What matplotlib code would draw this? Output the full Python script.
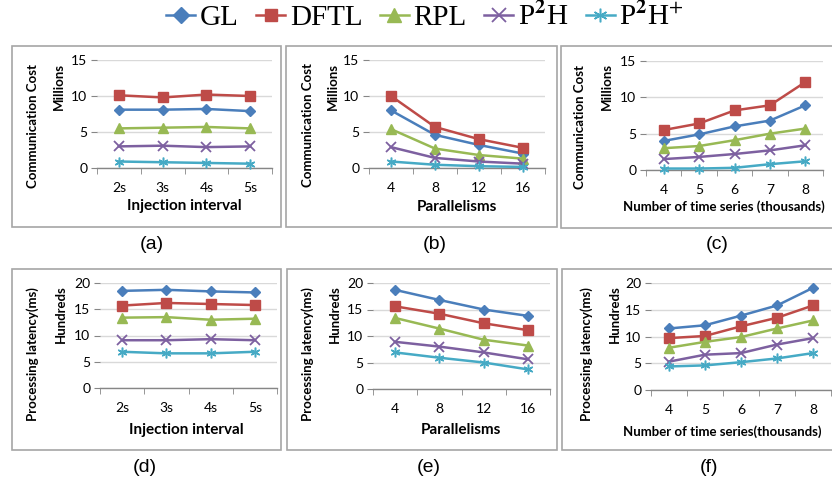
import matplotlib
matplotlib.use('Agg')
import matplotlib.pyplot as plt
import numpy as np
from matplotlib.patches import Rectangle

# ---------------- data ----------------
series_names = ['GL', 'DFTL', 'RPL', r'P$^{\mathbf{2}}$H', r'P$^{\mathbf{2}}$H$^{+}$']

interval_labels = ['2s', '3s', '4s', '5s']
parallel_labels = ['4', '8', '12', '16']
nseries_labels = ['4', '5', '6', '7', '8']

# (a) communication cost vs injection interval (millions)
cost_interval_gl = [8.1, 8.1, 8.2, 7.9]
cost_interval_dftl = [10.1, 9.8, 10.2, 10.0]
cost_interval_rpl = [5.5, 5.6, 5.7, 5.5]
cost_interval_p2h = [3.0, 3.1, 2.9, 3.0]
cost_interval_p2hp = [0.9, 0.8, 0.7, 0.6]

# (b) communication cost vs parallelism (millions)
cost_parallel_gl = [8.0, 4.6, 3.2, 2.0]
cost_parallel_dftl = [10.0, 5.7, 4.0, 2.8]
cost_parallel_rpl = [5.4, 2.7, 1.8, 1.3]
cost_parallel_p2h = [2.9, 1.4, 0.9, 0.6]
cost_parallel_p2hp = [0.9, 0.45, 0.25, 0.15]

# (c) communication cost vs number of time series (millions)
cost_nseries_gl = [4.0, 4.9, 6.0, 6.8, 8.9]
cost_nseries_dftl = [5.5, 6.4, 8.2, 8.9, 12.1]
cost_nseries_rpl = [3.0, 3.3, 4.1, 5.0, 5.7]
cost_nseries_p2h = [1.5, 1.8, 2.2, 2.7, 3.4]
cost_nseries_p2hp = [0.2, 0.2, 0.3, 0.8, 1.2]

# (d) processing latency vs injection interval (hundreds ms)
lat_interval_gl = [18.5, 18.7, 18.4, 18.2]
lat_interval_dftl = [15.7, 16.2, 16.0, 15.8]
lat_interval_rpl = [13.4, 13.5, 13.0, 13.2]
lat_interval_p2h = [9.1, 9.1, 9.3, 9.1]
lat_interval_p2hp = [6.9, 6.6, 6.6, 6.9]

# (e) processing latency vs parallelism (hundreds ms)
lat_parallel_gl = [18.7, 16.8, 15.0, 13.8]
lat_parallel_dftl = [15.6, 14.2, 12.4, 11.1]
lat_parallel_rpl = [13.4, 11.4, 9.3, 8.2]
lat_parallel_p2h = [8.9, 8.0, 6.9, 5.6]
lat_parallel_p2hp = [6.9, 5.9, 5.0, 3.7]

# (f) processing latency vs number of time series (hundreds ms)
lat_nseries_gl = [11.5, 12.1, 13.9, 15.8, 19.1]
lat_nseries_dftl = [9.7, 10.1, 11.9, 13.5, 15.8]
lat_nseries_rpl = [7.9, 9.0, 9.9, 11.5, 13.0]
lat_nseries_p2h = [5.3, 6.6, 6.9, 8.5, 9.7]
lat_nseries_p2hp = [4.4, 4.6, 5.2, 5.9, 6.9]

# ---------------- style ----------------
colors = ['#4A7EBB', '#BE4B48', '#98B954', '#7D60A0', '#46AAC5']
markers = ['D', 's', '^', 'x', (6, 2, 0)]
msizes = [5.5, 6.5, 7, 7, 7]
mews = [1, 1, 1, 1.3, 1.1]

plt.rcParams['font.family'] = ['Lato', 'DejaVu Sans']
plt.rcParams['mathtext.fontset'] = 'stix'

W, H = 832, 480
fig = plt.figure(figsize=(W / 100, H / 100), dpi=100)


def rect(x0, y0, x1, y1):
    return [x0 / W, 1 - y1 / H, (x1 - x0) / W, (y1 - y0) / H]


def fx(x):
    return x / W


def fy(y):
    return 1 - y / H


panels = [
    dict(box=(12, 46, 281, 227), ax=(97, 60, 272, 168), labels=interval_labels,
         data=[cost_interval_gl, cost_interval_dftl, cost_interval_rpl, cost_interval_p2h, cost_interval_p2hp],
         ymax=15, ylab='Communication Cost', ylab_pos=(33, 126), unit='Millions', unit_pos=(59, 87),
         xlab='Injection interval', xlab_pos=(184, 206), xlab_size=11, tag='(a)', tag_pos=(152, 245)),
    dict(box=(286, 46, 557, 227), ax=(369, 60, 545, 168), labels=parallel_labels,
         data=[cost_parallel_gl, cost_parallel_dftl, cost_parallel_rpl, cost_parallel_p2h, cost_parallel_p2hp],
         ymax=15, ylab='Communication Cost', ylab_pos=(308, 125), unit='Millions', unit_pos=(333, 87),
         xlab='Parallelisms', xlab_pos=(457, 207), xlab_size=11, tag='(b)', tag_pos=(435, 245)),
    dict(box=(561, 46, 833, 228), ax=(646, 61, 823, 170), labels=nseries_labels,
         data=[cost_nseries_gl, cost_nseries_dftl, cost_nseries_rpl, cost_nseries_p2h, cost_nseries_p2hp],
         ymax=15, ylab='Communication Cost', ylab_pos=(580, 127), unit='Millions', unit_pos=(607, 87),
         xlab='Number of time series (thousands)', xlab_pos=(724, 207), xlab_size=9.5,
         tag='(c)', tag_pos=(717, 245)),
    dict(box=(12, 269, 281, 450), ax=(100, 283, 277, 388), labels=interval_labels,
         data=[lat_interval_gl, lat_interval_dftl, lat_interval_rpl, lat_interval_p2h, lat_interval_p2hp],
         ymax=20, ylab='Processing latency(ms)', ylab_pos=(33, 354), unit='Hundreds', unit_pos=(61, 314),
         xlab='Injection interval', xlab_pos=(186, 430), xlab_size=11, tag='(d)', tag_pos=(145, 467)),
    dict(box=(287, 269, 557, 450), ax=(373, 283, 550, 389), labels=parallel_labels,
         data=[lat_parallel_gl, lat_parallel_dftl, lat_parallel_rpl, lat_parallel_p2h, lat_parallel_p2hp],
         ymax=20, ylab='Processing latency(ms)', ylab_pos=(308, 354), unit='Hundreds', unit_pos=(335, 314),
         xlab='Parallelisms', xlab_pos=(461, 430), xlab_size=11, tag='(e)', tag_pos=(429, 467)),
    dict(box=(562, 269, 833, 450), ax=(651, 283, 831, 390), labels=nseries_labels,
         data=[lat_nseries_gl, lat_nseries_dftl, lat_nseries_rpl, lat_nseries_p2h, lat_nseries_p2hp],
         ymax=20, ylab='Processing latency(ms)', ylab_pos=(587, 354), unit='Hundreds', unit_pos=(615, 314),
         xlab='Number of time series(thousands)', xlab_pos=(722, 432), xlab_size=9.5,
         tag='(f)', tag_pos=(709, 467)),
]

border_col = '#A6A6A6'
axis_col = '#868686'
grid_col = '#D9D9D9'

for p in panels:
    x0, y0, x1, y1 = p['box']
    fig.patches.append(Rectangle((fx(x0), fy(y1)), (x1 - x0) / W, (y1 - y0) / H,
                                 transform=fig.transFigure, fill=False,
                                 edgecolor=border_col, linewidth=1.2, zorder=0))
    ax = fig.add_axes(rect(*p['ax']))
    n = len(p['labels'])
    xs = np.arange(n)
    handles = []
    for i, vals in enumerate(p['data']):
        h, = ax.plot(xs, vals, color=colors[i], marker=markers[i], ms=msizes[i],
                     mew=mews[i], mec=colors[i], mfc=colors[i], lw=1.8,
                     clip_on=False, zorder=3, label=series_names[i])
        handles.append(h)
    ax.set_xlim(-0.5, n - 0.5)
    ax.set_ylim(0, p['ymax'])
    ax.set_yticks(np.arange(0, p['ymax'] + 1, 5))
    ax.set_xticks(xs)
    ax.set_xticklabels(p['labels'])
    ax.set_xticks(np.arange(-0.5, n, 1), minor=True)
    for s in ['top', 'right', 'left']:
        ax.spines[s].set_visible(False)
    ax.spines['bottom'].set_color(axis_col)
    ax.spines['bottom'].set_linewidth(1.0)
    ax.grid(axis='y', color=grid_col, lw=1.0, zorder=0)
    ax.set_axisbelow(True)
    ax.tick_params(axis='x', which='major', length=0, pad=10, labelsize=10, colors='black')
    ax.tick_params(axis='x', which='minor', length=4, color=axis_col, direction='out')
    ax.tick_params(axis='y', which='major', length=4, color=axis_col, pad=3, labelsize=10)
    ax.patch.set_alpha(0)

    fig.text(fx(p['ylab_pos'][0]), fy(p['ylab_pos'][1]), p['ylab'], rotation=90,
             ha='center', va='center', fontsize=9.5, fontweight='bold')
    fig.text(fx(p['unit_pos'][0]), fy(p['unit_pos'][1]), p['unit'], rotation=90,
             ha='center', va='center', fontsize=9.5, fontweight='bold')
    fig.text(fx(p['xlab_pos'][0]), fy(p['xlab_pos'][1]), p['xlab'],
             ha='center', va='center', fontsize=p['xlab_size'], fontweight='bold')
    fig.text(fx(p['tag_pos'][0]), fy(p['tag_pos'][1]), p['tag'],
             ha='center', va='center', fontsize=14, family='Liberation Sans')

leg = fig.legend(handles, series_names, loc='center', bbox_to_anchor=(fx(425), fy(17)),
                 ncol=5, frameon=False, prop={'family': 'Liberation Serif', 'size': 21},
                 handlelength=1.0, handletextpad=0.15, columnspacing=0.6, markerscale=1.4,
                 borderpad=0, borderaxespad=0)

fig.savefig('out.png', dpi=100)
